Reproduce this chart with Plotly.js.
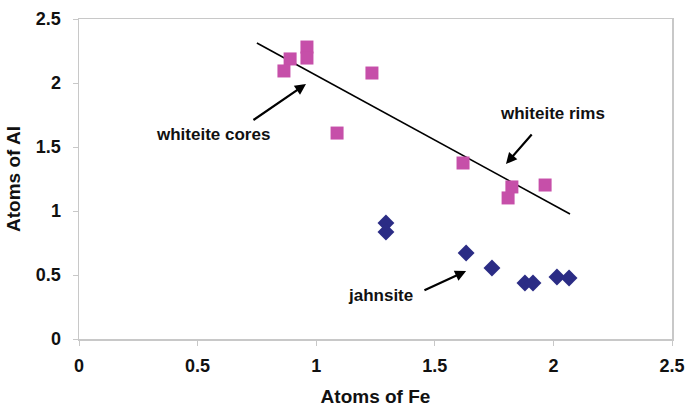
<!DOCTYPE html>
<html>
<head>
<meta charset="utf-8">
<script src="https://cdn.plot.ly/plotly-3.0.1.min.js"></script>
<style>html,body{margin:0;padding:0;background:#fff;}#chart{width:688px;height:408px;}</style>
</head>
<body>
<div id="chart"></div>
<script>
// Whiteite (pink squares)
const whiteiteFe = [0.890, 0.864, 0.961, 0.961, 1.235, 1.088, 1.619, 1.825, 1.809, 1.965];
const whiteiteAl = [2.188, 2.094, 2.281, 2.195, 2.078, 1.609, 1.375, 1.188, 1.102, 1.203];
// Jahnsite (blue diamonds)
const jahnsiteFe = [1.294, 1.294, 1.632, 1.741, 1.880, 1.914, 2.015, 2.066];
const jahnsiteAl = [0.906, 0.836, 0.672, 0.555, 0.438, 0.438, 0.484, 0.477];
// Trend line endpoints
const trendFe = [0.750, 2.070];
const trendAl = [2.3125, 0.977];
// Tick labels
const tickVals = [0, 0.5, 1, 1.5, 2, 2.5];
const tickText = ['0', '0.5', '1', '1.5', '2', '2.5'];

const font = 'Liberation Sans, Arial, sans-serif';

const traces = [
  {x: trendFe, y: trendAl, mode: 'lines', line: {color: '#000', width: 1.6}, hoverinfo: 'skip', showlegend: false},
  {x: whiteiteFe, y: whiteiteAl, mode: 'markers', marker: {symbol: 'square', size: 13, color: '#C64FA9'}, showlegend: false},
  {x: jahnsiteFe, y: jahnsiteAl, mode: 'markers', marker: {symbol: 'diamond', size: 13, color: '#2B2C85'}, showlegend: false}
];

const axisCommon = {
  showgrid: false, zeroline: false, showline: true, mirror: true,
  linecolor: '#c8c8c8', linewidth: 1.5, ticks: 'outside', ticklen: 5, tickcolor: '#c8c8c8',
  tickvals: tickVals, ticktext: tickText,
  tickfont: {family: font, size: 18, color: '#111', weight: 'bold'}
};

const arrowStyle = {showarrow: true, arrowhead: 2, arrowsize: 1, arrowwidth: 2.2, arrowcolor: '#000', axref: 'x', ayref: 'y', text: ''};
const textStyle = {showarrow: false, font: {family: font, size: 17, color: '#111', weight: 'bold'}};

const layout = {
  width: 688, height: 408,
  margin: {l: 79, r: 16, t: 19, b: 69},
  paper_bgcolor: '#fff', plot_bgcolor: '#fff',
  xaxis: Object.assign({}, axisCommon, {range: [0, 2.5], ticklabelstandoff: 5,
    title: {text: 'Atoms of Fe', font: {family: font, size: 19, color: '#111', weight: 'bold'}, standoff: 14}}),
  yaxis: Object.assign({}, axisCommon, {range: [0, 2.5], ticklabelstandoff: 8,
    title: {text: 'Atoms of Al', font: {family: font, size: 19, color: '#111', weight: 'bold'}, standoff: 10}}),
  annotations: [
    Object.assign({}, textStyle, {x: 0.565, y: 1.594, text: 'whiteite cores'}),
    Object.assign({}, arrowStyle, {x: 0.957, y: 1.992, ax: 0.729, ay: 1.703}),
    Object.assign({}, textStyle, {x: 1.998, y: 1.758, text: 'whiteite rims'}),
    Object.assign({}, arrowStyle, {x: 1.800, y: 1.367, ax: 1.914, ay: 1.609}),
    Object.assign({}, textStyle, {x: 1.269, y: 0.336, text: 'jahnsite'}),
    Object.assign({}, arrowStyle, {x: 1.632, y: 0.531, ax: 1.450, ay: 0.375})
  ]
};

Plotly.newPlot('chart', traces, layout, {displayModeBar: false, staticPlot: true});
</script>
</body>
</html>
